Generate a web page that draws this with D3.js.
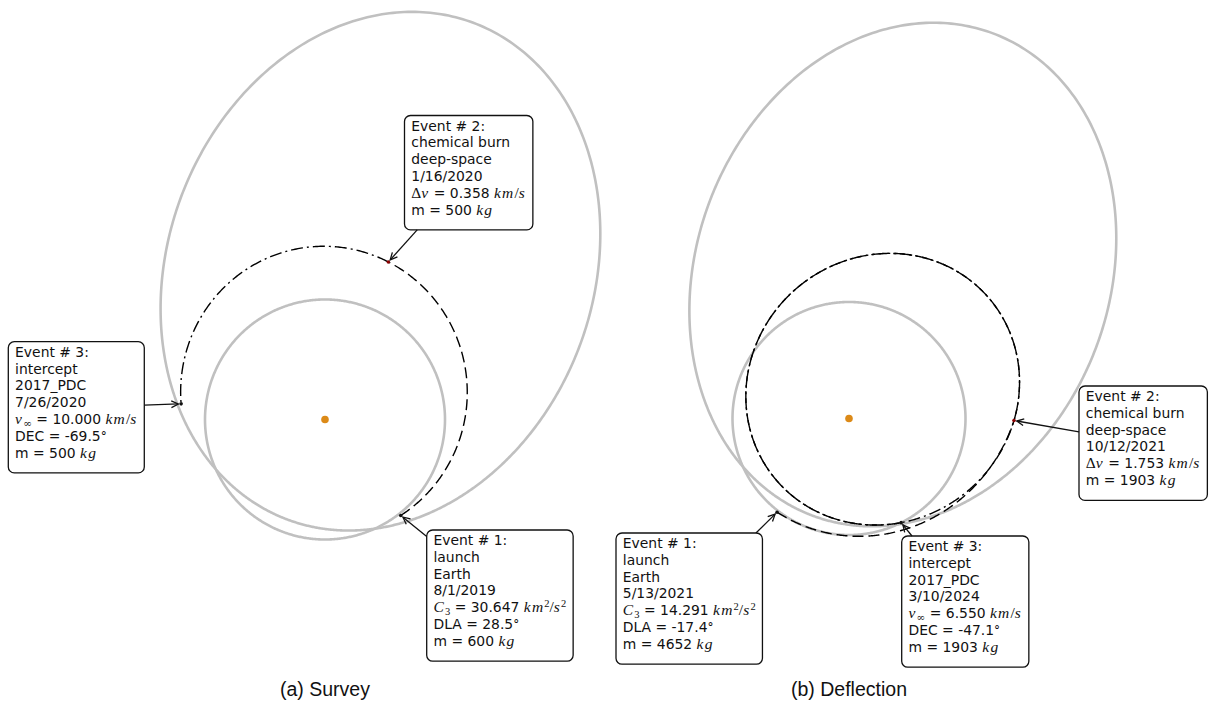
<!DOCTYPE html>
<html><head><meta charset="utf-8">
<script src="https://cdn.jsdelivr.net/npm/d3@7"></script>
<style>body{margin:0;background:#fff}svg{display:block}</style>
</head><body>
<svg id="c" width="1210" height="706"></svg>
<script>
// ---------------- data ----------------
const panelTitles = ["(a) Survey", "(b) Deflection"];
// Earth orbit (AU)
const earthA = [1.0, 1.0];
const earthE = [0.0, 0.0];
// 2017_PDC orbit in plot plane: semi-major axis (AU), eccentricity, argument of perihelion (deg)
const asteroidA = [2.21, 2.21];
const asteroidE = [0.597, 0.597];
const asteroidW = [249.5, 249.5];
// transfer arcs per panel: [launch->DSM, DSM->intercept]; conic p (AU), e, omega (deg), true longitude range (deg)
const arcP = [[1.173, 1.173], [1.299, 1.079]];
const arcE = [[0.1875, 0.1875], [0.301, 0.319]];
const arcW = [[-87.8, -87.8], [-106.7, -139.0]];
const arcFrom = [[-51.7, 68.1], [-127.5, -0.7]];
const arcTo = [[68.1, 173.8], [-0.7, 656.6]];
// event annotations
const eventHeaders = ["Event # 1:", "Event # 2:", "Event # 3:"];
const eventKinds = [["launch", "Earth"], ["chemical burn", "deep-space"], ["intercept", "2017_PDC"]];
const eventDates = [["8/1/2019", "1/16/2020", "7/26/2020"], ["5/13/2021", "10/12/2021", "3/10/2024"]];
const launchC3 = [30.647, 14.291];
const launchDLA = [28.5, -17.4];
const dsmDeltaV = [0.358, 1.753];
const arrivalVinf = [10.000, 6.550];
const arrivalDEC = [-69.5, -47.1];
const eventMass = [[600, 500, 500], [4652, 1903, 1903]];

// ---------------- layout ----------------
const layout = {
  centers: [[325, 419.5], [849, 418.5]],
  pxPerAU: [120, 116.5],
  boxes: [[[426.7, 530], [404.5, 115.5], [8.3, 341.7]], [[616, 533], [1079, 386], [901.7, 536]]],
  captionY: 696,
  lineH: 16.8, pad: 6.8, firstBase: 15
};

const svg = d3.select("#c");
const fmt1 = v => v.toFixed(1), fmt3 = v => v.toFixed(3);

function eventLines(pi, ei) {
  const L = [eventHeaders[ei], eventKinds[ei][0], eventKinds[ei][1], eventDates[pi][ei]];
  if (ei === 0) {
    L.push("$C_3$ = " + fmt3(launchC3[pi]) + " $km^2/s^2$");
    L.push("DLA = " + fmt1(launchDLA[pi]) + "$^\\circ$");
  } else if (ei === 1) {
    L.push("$\\Delta v$ = " + fmt3(dsmDeltaV[pi]) + " $km/s$");
  } else {
    L.push("$v_\\infty$ = " + fmt3(arrivalVinf[pi]) + " $km/s$");
    L.push("DEC = " + fmt1(arrivalDEC[pi]) + "$^\\circ$");
  }
  L.push("m = " + eventMass[pi][ei] + " $kg$");
  return L;
}

function mathTokens(s) {
  const out = []; let i = 0, pending = 0;
  while (i < s.length) {
    const ch = s[i];
    if (ch === "_") { pending = 1; i++; continue; }
    if (ch === "^") { pending = -1; i++; continue; }
    if (ch === " ") { i++; continue; }
    let tok, italic;
    if (ch === "\\") {
      const m = /^\\([a-zA-Z]+)/.exec(s.slice(i));
      i += m[0].length;
      tok = { Delta: "Δ", infty: "∞", circ: "°" }[m[1]];
      italic = false;
    } else { tok = ch; italic = /[a-zA-Z]/.test(ch); i++; }
    let shift = pending; pending = 0;
    if (tok === "°") shift = 0;
    out.push({ t: tok, italic, shift });
  }
  return out;
}

function renderLine(textSel, str) {
  const parts = str.split("$");
  let cur = 0;
  parts.forEach((p, k) => {
    if (p === "") return;
    if (k % 2 === 0) {
      const ts = textSel.append("tspan").text(p)
        .attr("font-family", "DejaVu Sans").attr("font-size", 13.9);
      if (cur !== 0) { ts.attr("dy", -cur); cur = 0; }
    } else {
      mathTokens(p).forEach(tk => {
        const target = tk.shift === 1 ? 3.2 : tk.shift === -1 ? -5.5 : 0;
        const ts = textSel.append("tspan").text(tk.t)
          .attr("font-family", tk.t === "°" || tk.t === "∞" ? "DejaVu Serif" : "Liberation Serif")
          .attr("font-style", tk.italic ? "italic" : "normal")
          .attr("font-size", tk.shift !== 0 ? 10.5 : (tk.t === "°" ? 12 : 15.5))
          .attr("letter-spacing", tk.italic ? 1.2 : 0);
        if (target !== cur) { ts.attr("dy", target - cur); cur = target; }
      });
    }
  });
}

function conicPts(p, e, w, t0, t1, sx, sy) {
  const pts = [];
  const n = Math.max(2, Math.ceil(Math.abs(t1 - t0) / 0.5));
  for (let j = 0; j <= n; j++) {
    const th = (t0 + (t1 - t0) * j / n) * Math.PI / 180;
    const r = p / (1 + e * Math.cos(th - w * Math.PI / 180));
    pts.push([sx(r * Math.cos(th)), sy(r * Math.sin(th))]);
  }
  return pts;
}
function conicPoint(p, e, w, th, sx, sy) {
  const t = th * Math.PI / 180;
  const r = p / (1 + e * Math.cos(t - w * Math.PI / 180));
  return [sx(r * Math.cos(t)), sy(r * Math.sin(t))];
}

const line = d3.line().curve(d3.curveLinear);

[0, 1].forEach(pi => {
  const [cx, cy] = layout.centers[pi], k = layout.pxPerAU[pi];
  const sx = d3.scaleLinear().domain([-1, 1]).range([cx - k, cx + k]);
  const sy = d3.scaleLinear().domain([-1, 1]).range([cy + k, cy - k]);
  const g = svg.append("g");

  // Earth orbit
  const ep = earthA[pi] * (1 - earthE[pi] * earthE[pi]);
  g.append("path").attr("d", line(conicPts(ep, earthE[pi], 0, 0, 360, sx, sy)) + "Z")
    .attr("fill", "none").attr("stroke", "#c0c0c0").attr("stroke-width", 2.6);
  // asteroid orbit
  const ap = asteroidA[pi] * (1 - asteroidE[pi] * asteroidE[pi]);
  g.append("path").attr("d", line(conicPts(ap, asteroidE[pi], asteroidW[pi], 0, 360, sx, sy)) + "Z")
    .attr("fill", "none").attr("stroke", "#c0c0c0").attr("stroke-width", 2.6);

  // trajectory arcs (revolutions beyond the first are drawn with a shifted dash phase)
  const dashes = ["11,5", "12,4,2,4"];
  [0, 1].forEach(ai => {
    const a0 = arcFrom[pi][ai], a1 = arcTo[pi][ai];
    let s = a0, rev = 0;
    while (s < a1 - 1e-9) {
      const e = Math.min(a1, s + 360);
      g.append("path")
        .attr("d", line(conicPts(arcP[pi][ai], arcE[pi][ai], arcW[pi][ai], s, e, sx, sy)))
        .attr("fill", "none").attr("stroke", "#000").attr("stroke-width", 1.4)
        .attr("stroke-dasharray", dashes[ai]).attr("stroke-dashoffset", rev * 15);
      s = e; rev++;
    }
  });

  // Sun
  g.append("circle").attr("cx", sx(0)).attr("cy", sy(0)).attr("r", 3.8).attr("fill", "#dc8a18");

  // event points
  const evPts = [
    conicPoint(arcP[pi][0], arcE[pi][0], arcW[pi][0], arcFrom[pi][0], sx, sy),
    conicPoint(arcP[pi][0], arcE[pi][0], arcW[pi][0], arcTo[pi][0], sx, sy),
    conicPoint(arcP[pi][1], arcE[pi][1], arcW[pi][1], arcTo[pi][1], sx, sy)
  ];
  const mcol = ["#111", "#8b0000", "#111"];
  evPts.forEach((pt, ei) => g.append("circle").attr("cx", pt[0]).attr("cy", pt[1]).attr("r", 1.8).attr("fill", mcol[ei]));

  // annotation boxes
  evPts.forEach((pt, ei) => {
    const [bx, by] = layout.boxes[pi][ei];
    const bg = g.append("g");
    const rect = bg.append("rect");
    const lines = eventLines(pi, ei);
    const tg = bg.append("g");
    let maxW = 0;
    lines.forEach((s, li) => {
      const t = tg.append("text").attr("x", bx + layout.pad).attr("y", by + layout.firstBase + li * layout.lineH)
        .attr("fill", "#111");
      renderLine(t, s);
      maxW = Math.max(maxW, t.node().getComputedTextLength());
    });
    const bw = maxW + 2 * layout.pad;
    const bh = lines.length * layout.lineH + 2 * layout.pad;
    rect.attr("x", bx).attr("y", by).attr("width", bw).attr("height", bh)
      .attr("rx", 6).attr("fill", "#fff").attr("stroke", "#111").attr("stroke-width", 1.3);

    // arrow from box centre toward event point, clipped by box
    const ccx = bx + bw / 2, ccy = by + bh / 2;
    const dx = pt[0] - ccx, dy = pt[1] - ccy;
    const tx = dx > 0 ? (bx + bw - ccx) / dx : (bx - ccx) / dx;
    const ty = dy > 0 ? (by + bh - ccy) / dy : (by - ccy) / dy;
    const t0 = Math.min(Math.abs(tx), Math.abs(ty));
    const sX = ccx + t0 * dx, sY = ccy + t0 * dy;
    const len = Math.hypot(dx, dy), ux = dx / len, uy = dy / len;
    const eX = pt[0] - ux * 2.8, eY = pt[1] - uy * 2.8;
    g.append("line").attr("x1", sX).attr("y1", sY).attr("x2", eX).attr("y2", eY)
      .attr("stroke", "#111").attr("stroke-width", 1.3);
    const hl = 7, hw = 3.4;
    const p1 = [eX - ux * hl - uy * hw, eY - uy * hl + ux * hw];
    const p2 = [eX - ux * hl + uy * hw, eY - uy * hl - ux * hw];
    g.append("path").attr("d", `M${p1[0]},${p1[1]}L${eX},${eY}L${p2[0]},${p2[1]}`)
      .attr("fill", "none").attr("stroke", "#111").attr("stroke-width", 1.3);
  });

  // caption
  svg.append("text").attr("x", cx).attr("y", layout.captionY).attr("text-anchor", "middle")
    .attr("font-family", "Liberation Sans").attr("font-size", 19.5).attr("fill", "#111")
    .text(panelTitles[pi]);
});
</script>
</body></html>
